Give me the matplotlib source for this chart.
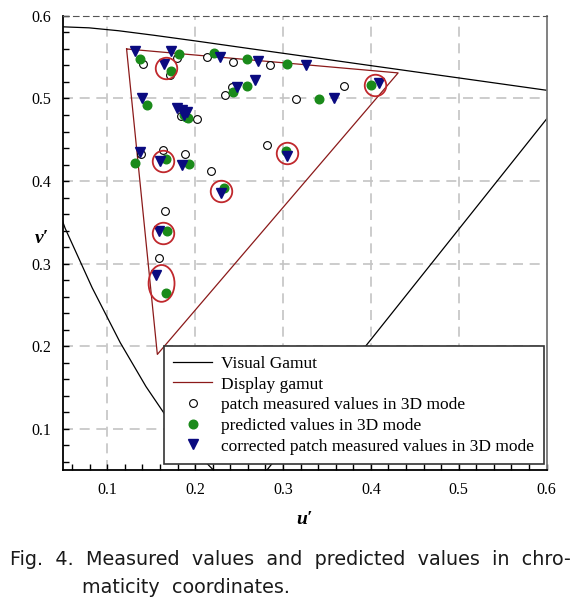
import numpy as np
import matplotlib
matplotlib.use("Agg")
import matplotlib.pyplot as plt
from matplotlib.patches import Ellipse
from matplotlib.ticker import MultipleLocator

# spectral locus (u', v'), 380 nm -> 700 nm, closed by the purple line
vis_u = [0.2568, 0.2522, 0.2347, 0.2161, 0.1877, 0.1690, 0.1441, 0.1147, 0.0828, 0.0521,
         0.0282, 0.0119, 0.0035, 0.0014, 0.0046, 0.0123, 0.0231, 0.0360, 0.0501, 0.0792,
         0.1127, 0.1531, 0.2026, 0.2623, 0.3315, 0.4035, 0.5203, 0.6005, 0.6234, 0.2568]
vis_v = [0.0166, 0.0169, 0.0350, 0.0550, 0.0871, 0.1119, 0.1510, 0.2044, 0.2708, 0.3427,
         0.4117, 0.4698, 0.5131, 0.5432, 0.5638, 0.5770, 0.5837, 0.5861, 0.5868, 0.5856,
         0.5821, 0.5766, 0.5694, 0.5604, 0.5501, 0.5393, 0.5219, 0.5099, 0.5065, 0.0166]

# display gamut triangle G, R, B
disp_u = [0.122, 0.431, 0.157, 0.122]
disp_v = [0.560, 0.531, 0.190, 0.560]

# patch measured values in 3D mode
meas_u = [0.141, 0.1796, 0.1713, 0.2136, 0.243, 0.2857, 0.2425, 0.2345, 0.315, 0.1834,
          0.2027, 0.2818, 0.1636, 0.1886, 0.2186, 0.166, 0.3693, 0.1588, 0.138]
meas_v = [0.542, 0.549, 0.528, 0.550, 0.5446, 0.540, 0.5136, 0.5048, 0.4996, 0.4787,
          0.4747, 0.4437, 0.4377, 0.4325, 0.4117, 0.3635, 0.5148, 0.3072, 0.433]

# predicted values in 3D mode
pred_u = [0.137, 0.1815, 0.1724, 0.221, 0.259, 0.305, 0.243, 0.2587, 0.1455, 0.187,
          0.190, 0.192, 0.132, 0.1667, 0.193, 0.303, 0.233, 0.1675, 0.3406, 0.400, 0.1664]
pred_v = [0.548, 0.554, 0.533, 0.555, 0.548, 0.542, 0.508, 0.515, 0.4916, 0.480,
          0.478, 0.476, 0.422, 0.4265, 0.421, 0.4365, 0.391, 0.339, 0.499, 0.516, 0.2647]

# corrected patch measured values in 3D mode
corr_u = [0.1315, 0.173, 0.1644, 0.228, 0.271, 0.3266, 0.248, 0.2686, 0.139, 0.179, 0.185,
          0.1905, 0.187, 0.137, 0.160, 0.185, 0.304, 0.229, 0.159, 0.156, 0.3577, 0.409]
corr_v = [0.557, 0.557, 0.542, 0.550, 0.545, 0.540, 0.514, 0.522, 0.500, 0.488, 0.486,
          0.484, 0.4795, 0.435, 0.424, 0.420, 0.430, 0.386, 0.339, 0.286, 0.501, 0.519]

# red highlight rings
ring_u = [0.1667, 0.163, 0.230, 0.304, 0.4042, 0.1636]
ring_v = [0.537, 0.4245, 0.3883, 0.4337, 0.5169, 0.3373]
oval_center = (0.1618, 0.276)

serif = ['Liberation Serif', 'DejaVu Serif']

fig = plt.figure(figsize=(5.83, 6.04), dpi=100)
ax = fig.add_axes([0.1086, 0.2219, 0.829, 0.7517])

ax.set_xlim(0.05, 0.6)
ax.set_ylim(0.05, 0.6)

for g in [0.1, 0.2, 0.3, 0.4, 0.5]:
    ax.axvline(g, color='#c4c4c4', lw=1.2, ls=(0, (6, 4)), zorder=0)
    ax.axhline(g, color='#c4c4c4', lw=1.2, ls=(0, (6, 4)), zorder=0)

ax.plot(vis_u, vis_v, color='black', lw=0.9, label='Visual Gamut', zorder=2)
ax.plot(disp_u, disp_v, color='#8b1a1a', lw=0.9, label='Display gamut', zorder=2)

ax.plot(meas_u, meas_v, 'o', ms=5.6, mfc='white', mec='black', mew=0.8, ls='none',
        label='patch measured values in 3D mode', zorder=3)
ax.plot(pred_u, pred_v, 'o', ms=6.2, mfc='#1a8a1a', mec='#1a8a1a', ls='none',
        label='predicted values in 3D mode', zorder=4)
ax.plot(corr_u, corr_v, 'v', ms=6.8, mfc='#0a0a80', mec='#0a0a80', ls='none',
        label='corrected patch measured values in 3D mode', zorder=5)

ax.plot(ring_u, ring_v, 'o', ms=15.5, mfc='none', mec='#c0282d', mew=1.3, ls='none', zorder=6)
ax.add_patch(Ellipse(oval_center, 0.0295, 0.0446, fill=False, ec='#c0282d', lw=1.3, zorder=6))

ax.xaxis.set_major_locator(MultipleLocator(0.1))
ax.yaxis.set_major_locator(MultipleLocator(0.1))
ax.xaxis.set_minor_locator(MultipleLocator(0.02))
ax.yaxis.set_minor_locator(MultipleLocator(0.02))
ax.tick_params(which='both', direction='in', length=4, width=1, top=False, right=False)
ax.tick_params(which='major', pad=9)
for lab in ax.get_xticklabels() + ax.get_yticklabels():
    lab.set_family(serif)
    lab.set_fontsize(11.5)

ax.spines['left'].set_linewidth(1.3)
ax.spines['bottom'].set_linewidth(1.3)
ax.spines['right'].set_color('#777777')
ax.spines['right'].set_linewidth(1.3)
ax.spines['top'].set_color('#555555')
ax.spines['top'].set_linestyle((0, (5, 4)))

ax.set_xlabel("u\u2032", family=serif, fontsize=14, weight='bold', style='italic', labelpad=9)
ax.set_ylabel("v\u2032", family=serif, fontsize=14, weight='bold', style='italic',
              rotation=0, labelpad=12)
ax.yaxis.set_label_coords(-0.045, 0.49)

leg = ax.legend(loc='lower right', bbox_to_anchor=(0.994, 0.013), borderaxespad=0,
                prop={'family': serif, 'size': 12.5}, handlelength=2.25, handletextpad=0.5,
                labelspacing=0.26, borderpad=0.55, fancybox=False, framealpha=1,
                edgecolor='#333333')
leg.get_frame().set_linewidth(1.2)

fig.text(0.017, 0.073, "Fig.  4.  Measured  values  and  predicted  values  in  chro-",
         family='DejaVu Sans', fontsize=13.8, color='#1a1a1a', va='center')
fig.text(0.141, 0.027, "maticity  coordinates.", family='DejaVu Sans', fontsize=13.8,
         color='#1a1a1a', va='center')

fig.savefig("out.png", dpi=100)
